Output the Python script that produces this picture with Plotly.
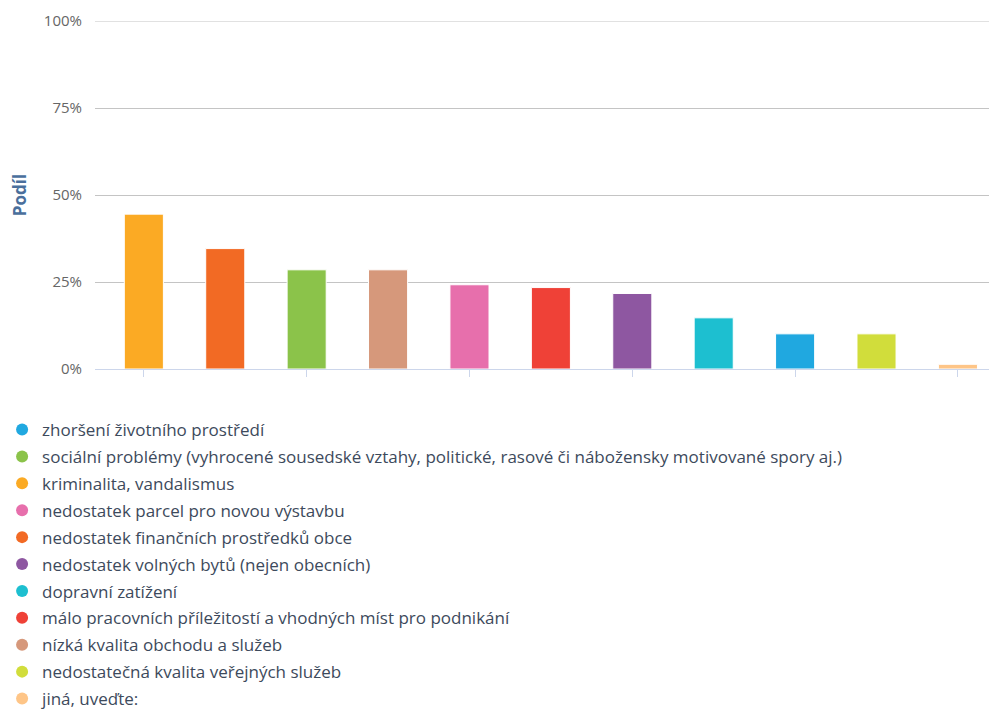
import plotly.graph_objects as go

# Legend order
categories = [
    "zhoršení životního prostředí",
    "sociální problémy (vyhrocené sousedské vztahy, politické, rasové či nábožensky motivované spory aj.)",
    "kriminalita, vandalismus",
    "nedostatek parcel pro novou výstavbu",
    "nedostatek finančních prostředků obce",
    "nedostatek volných bytů (nejen obecních)",
    "dopravní zatížení",
    "málo pracovních příležitostí a vhodných míst pro podnikání",
    "nízká kvalita obchodu a služeb",
    "nedostatečná kvalita veřejných služeb",
    "jiná, uveďte:",
]
values = [10.1, 28.5, 44.5, 24.2, 34.6, 21.7, 14.7, 23.4, 28.5, 10.1, 1.35]
# position of each category's bar along the axis (bars sorted by share)
bar_order = [8, 2, 0, 4, 1, 6, 7, 5, 3, 9, 10]
colors = ["#20a8e0", "#8bc34a", "#fbaa24", "#e76fac", "#f26a24", "#8e57a1",
          "#1dbfd0", "#ef4137", "#d6987b", "#d1dd3b", "#fec587"]
y_ticks = [0, 25, 50, 75, 100]
y_tick_labels = ["0%", "25%", "50%", "75%", "100%"]

FONT = "Open Sans, Noto Sans, sans-serif"
GRID = "#c4c4c4"

fig = go.Figure()
for i, (cat, val, pos, col) in enumerate(zip(categories, values, bar_order, colors)):
    fig.add_trace(go.Bar(
        x=[pos], y=[val], width=0.48, name=cat,
        marker=dict(color=col, line=dict(color="white", width=1)),
        showlegend=False, legendgroup=f"g{i}",
        hovertemplate=f"{cat}: %{{y:.1f}}%<extra></extra>",
    ))
for i, (cat, col) in enumerate(zip(categories, colors)):
    fig.add_trace(go.Scatter(
        x=[None], y=[None], mode="markers", name=cat,
        marker=dict(color=col, size=13, symbol="circle"),
        legendgroup=f"g{i}", showlegend=True,
    ))

# top gridline (plotly skips the gridline at the plot edge)
fig.add_shape(type="line", xref="paper", x0=0, x1=1, yref="y", y0=y_ticks[-1], y1=y_ticks[-1],
              line=dict(color=GRID, width=1), layer="below")

# page body has an 8px default margin, so the figure is sized to fit the window
fig.update_layout(
    width=989, height=702,
    margin=dict(l=87, r=0, t=13, b=341, autoexpand=False),
    paper_bgcolor="white", plot_bgcolor="white",
    font=dict(family=FONT, color="#3d4a5c"),
    barmode="overlay",
    showlegend=True,
    legend=dict(
        orientation="v", x=-0.103, xanchor="left", y=-0.1235, yanchor="top",
        font=dict(size=17, color="#3d4a5c", family=FONT),
        tracegroupgap=1.8, itemsizing="constant",
        bgcolor="rgba(0,0,0,0)",
    ),
    xaxis=dict(
        range=[-0.6, 10.48], tickmode="linear", tick0=0, dtick=2,
        showticklabels=False, showgrid=False, zeroline=False,
        showline=True, linecolor="#ccd6eb", linewidth=1,
        ticks="outside", ticklen=7, tickcolor="#ccd6eb", tickwidth=1,
        fixedrange=True,
    ),
    yaxis=dict(
        range=[0, 100], tickvals=y_ticks, ticktext=y_tick_labels,
        showgrid=True, gridcolor=GRID, gridwidth=1,
        zeroline=False, showline=False,
        tickfont=dict(size=15, color="#666666", family=FONT),
        ticklabelstandoff=12,
        title=dict(text="<b>Podíl</b>", font=dict(size=17, color="#4a6f9c", family=FONT),
                   standoff=14),
        fixedrange=True,
    ),
)

fig.write_html("out.html")
